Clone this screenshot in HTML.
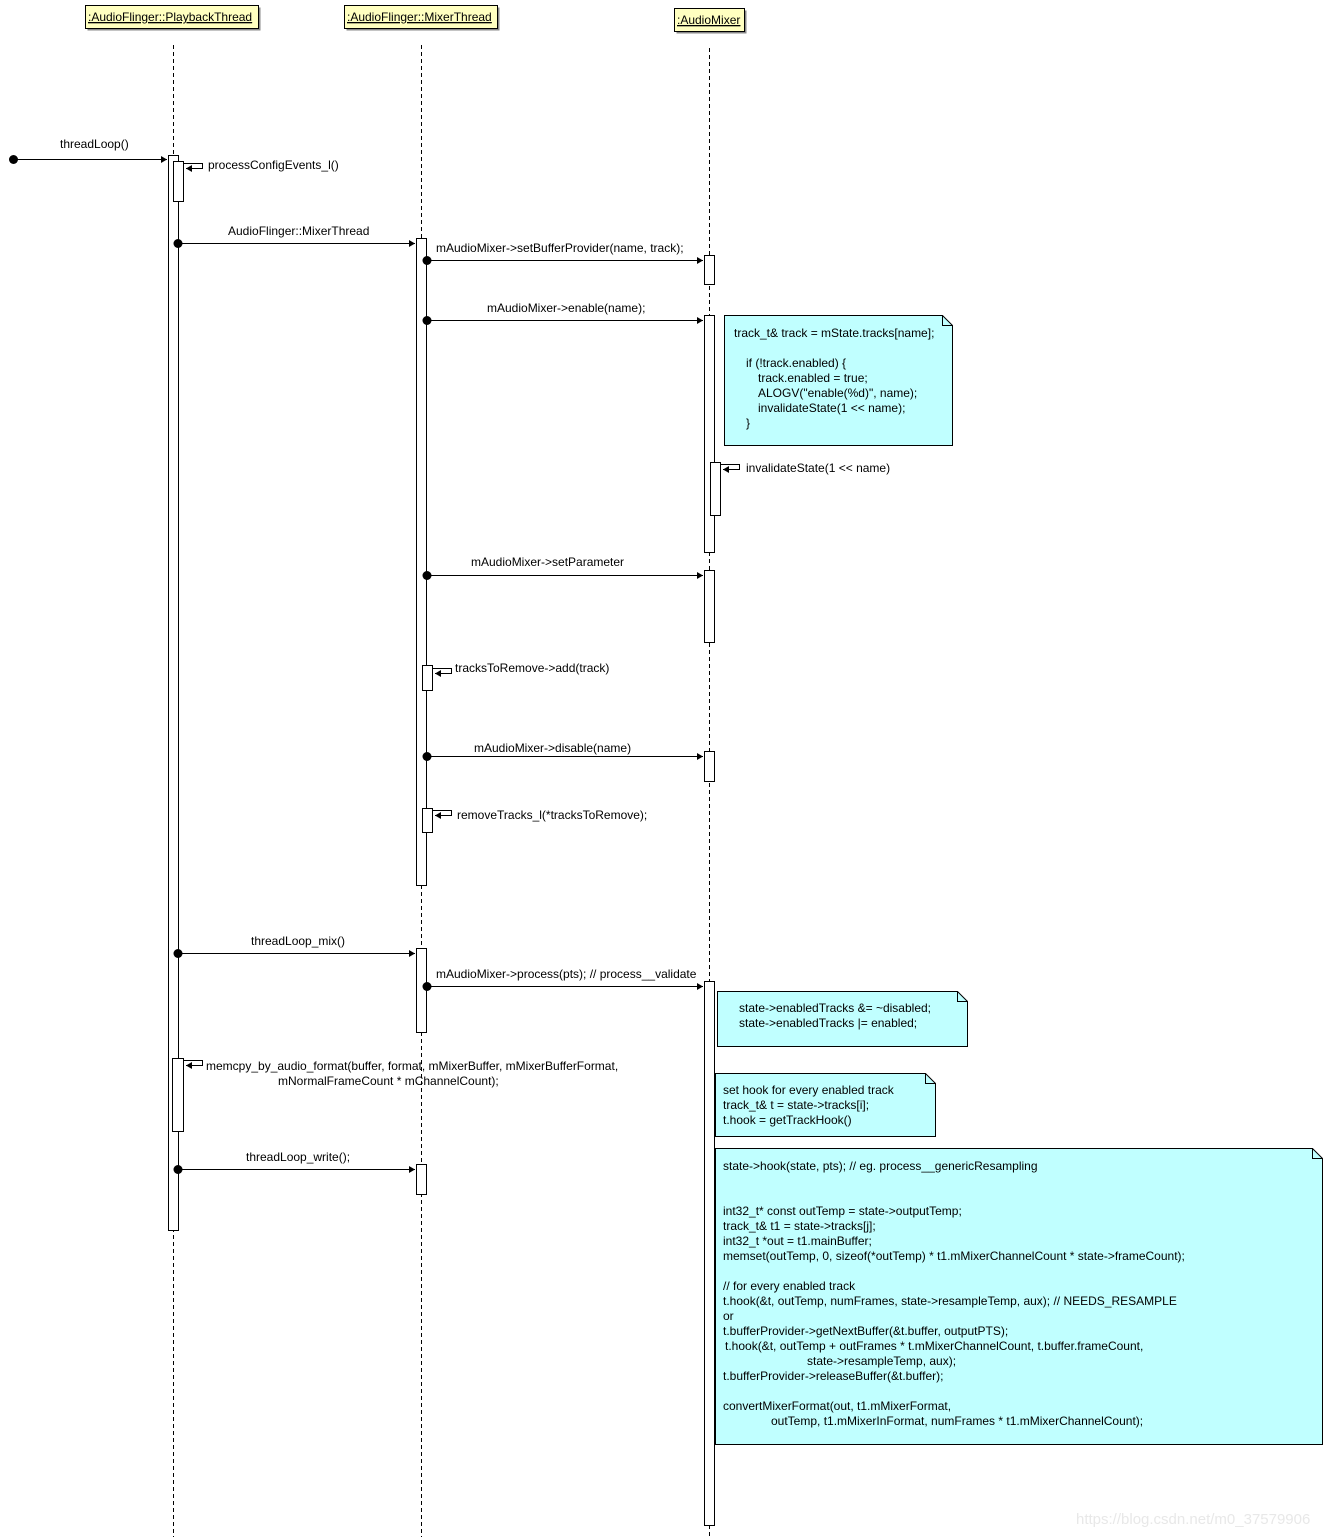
<!DOCTYPE html>
<html><head><meta charset="utf-8"><style>
html,body{margin:0;padding:0;background:#fff;}
svg{display:block;font-family:"Liberation Sans",Arial,sans-serif;font-size:12px;}
text{fill:#000;}
</style></head><body>
<svg width="1333" height="1537" viewBox="0 0 1333 1537" xmlns="http://www.w3.org/2000/svg">
<defs>
<marker id="ah" markerWidth="8" markerHeight="8" refX="6" refY="3.5" orient="auto" markerUnits="userSpaceOnUse"><path d="M0,0 L6,3.5 L0,7 z" fill="#000"/></marker>
</defs>
<!-- headers -->
<g stroke="#000" stroke-width="1">
<rect x="87.5" y="7.5" width="173" height="23" fill="#888" stroke="none"/>
<rect x="85.5" y="5.5" width="173" height="23" fill="#ffffc0"/>
<rect x="346.5" y="7.5" width="153" height="23" fill="#888" stroke="none"/>
<rect x="344.5" y="5.5" width="153" height="23" fill="#ffffc0"/>
<rect x="676.5" y="10.5" width="70" height="23" fill="#888" stroke="none"/>
<rect x="674.5" y="8.5" width="70" height="23" fill="#ffffc0"/>
</g>
<g text-decoration="underline">
<text x="88" y="21" text-decoration="underline">:AudioFlinger::PlaybackThread</text>
<text x="347" y="21" text-decoration="underline">:AudioFlinger::MixerThread</text>
<text x="677" y="24" text-decoration="underline">:AudioMixer</text>
</g>
<!-- lifelines -->
<g stroke="#000" stroke-dasharray="4,3" stroke-width="1">
<line x1="173.5" y1="45" x2="173.5" y2="1537"/>
<line x1="421.5" y1="45" x2="421.5" y2="1537"/>
<line x1="709.5" y1="48" x2="709.5" y2="1537"/>
</g>
<!-- activation bars -->
<g stroke="#000" fill="#fff" stroke-width="1">
<rect x="168.5" y="155.5" width="10" height="1075"/>
<rect x="173.5" y="161.5" width="10" height="40"/>
<rect x="172.5" y="1058.5" width="11" height="73"/>
<rect x="416.5" y="238.5" width="10" height="647"/>
<rect x="422.5" y="665.5" width="10" height="25"/>
<rect x="422.5" y="808.5" width="10" height="24"/>
<rect x="416.5" y="948.5" width="10" height="84"/>
<rect x="416.5" y="1164.5" width="10" height="30"/>
<rect x="704.5" y="255.5" width="10" height="29"/>
<rect x="704.5" y="315.5" width="10" height="237"/>
<rect x="710.5" y="462.5" width="10" height="53"/>
<rect x="704.5" y="570.5" width="10" height="72"/>
<rect x="704.5" y="751.5" width="10" height="30"/>
<rect x="704.5" y="981.5" width="10" height="544"/>
</g>
<!-- messages -->
<g stroke="#000" stroke-width="1" fill="none">
<line x1="13" y1="159.5" x2="167" y2="159.5" marker-end="url(#ah)"/>
<line x1="178" y1="243.5" x2="415" y2="243.5" marker-end="url(#ah)"/>
<line x1="427" y1="260.5" x2="703" y2="260.5" marker-end="url(#ah)"/>
<line x1="427" y1="320.5" x2="703" y2="320.5" marker-end="url(#ah)"/>
<line x1="427" y1="575.5" x2="703" y2="575.5" marker-end="url(#ah)"/>
<line x1="427" y1="756.5" x2="703" y2="756.5" marker-end="url(#ah)"/>
<line x1="178" y1="953.5" x2="415" y2="953.5" marker-end="url(#ah)"/>
<line x1="427" y1="986.5" x2="703" y2="986.5" marker-end="url(#ah)"/>
<line x1="178" y1="1169.5" x2="415" y2="1169.5" marker-end="url(#ah)"/>
<!-- self loops -->
<polyline points="184,163.5 202.5,163.5 202.5,168.5 186,168.5" marker-end="url(#ah)"/>
<polyline points="721,464.5 739.5,464.5 739.5,469.5 723,469.5" marker-end="url(#ah)"/>
<polyline points="433,668.5 451.5,668.5 451.5,673.5 435,673.5" marker-end="url(#ah)"/>
<polyline points="433,810.5 451.5,810.5 451.5,815.5 435,815.5" marker-end="url(#ah)"/>
<polyline points="184,1060.5 202.5,1060.5 202.5,1065.5 186,1065.5" marker-end="url(#ah)"/>
</g>
<g fill="#000">
<circle cx="13.5" cy="159.5" r="4.5"/>
<circle cx="178" cy="243.5" r="4.5"/>
<circle cx="427" cy="260.5" r="4.5"/>
<circle cx="427" cy="320.5" r="4.5"/>
<circle cx="427" cy="575.5" r="4.5"/>
<circle cx="427" cy="756.5" r="4.5"/>
<circle cx="178" cy="953.5" r="4.5"/>
<circle cx="427" cy="986.5" r="4.5"/>
<circle cx="178" cy="1169.5" r="4.5"/>
</g>
<!-- message labels -->
<text x="60" y="148">threadLoop()</text>
<text x="208" y="169">processConfigEvents_l()</text>
<text x="228" y="235">AudioFlinger::MixerThread</text>
<text x="436" y="252">mAudioMixer-&gt;setBufferProvider(name, track);</text>
<text x="487" y="312">mAudioMixer-&gt;enable(name);</text>
<text x="746" y="472">invalidateState(1 &lt;&lt; name)</text>
<text x="471" y="566">mAudioMixer-&gt;setParameter</text>
<text x="455" y="672">tracksToRemove-&gt;add(track)</text>
<text x="474" y="752">mAudioMixer-&gt;disable(name)</text>
<text x="457" y="819">removeTracks_l(*tracksToRemove);</text>
<text x="251" y="945">threadLoop_mix()</text>
<text x="436" y="978">mAudioMixer-&gt;process(pts); // process__validate</text>
<text x="206" y="1070">memcpy_by_audio_format(buffer, format, mMixerBuffer, mMixerBufferFormat,</text>
<text x="278" y="1085">mNormalFrameCount * mChannelCount);</text>
<text x="246" y="1161">threadLoop_write();</text>
<!-- notes -->
<g stroke="#000" stroke-width="1" fill="#c0ffff">
<path d="M724.5,315.5 H942.5 L952.5,325.5 V445.5 H724.5 Z"/>
<path d="M942.5,315.5 V325.5 H952.5" fill="none"/>
<path d="M717.5,991.5 H957.5 L967.5,1001.5 V1046.5 H717.5 Z"/>
<path d="M957.5,991.5 V1001.5 H967.5" fill="none"/>
<path d="M715.5,1073.5 H925.5 L935.5,1083.5 V1136.5 H715.5 Z"/>
<path d="M925.5,1073.5 V1083.5 H935.5" fill="none"/>
<path d="M715.5,1148.5 H1312.5 L1322.5,1158.5 V1444.5 H715.5 Z"/>
<path d="M1312.5,1148.5 V1158.5 H1322.5" fill="none"/>
</g>
<g>
<text x="734" y="337">track_t&amp; track = mState.tracks[name];</text>
<text x="746" y="367">if (!track.enabled) {</text>
<text x="758" y="382">track.enabled = true;</text>
<text x="758" y="397">ALOGV("enable(%d)", name);</text>
<text x="758" y="412">invalidateState(1 &lt;&lt; name);</text>
<text x="746" y="427">}</text>

<text x="739" y="1012">state-&gt;enabledTracks &amp;= ~disabled;</text>
<text x="739" y="1027">state-&gt;enabledTracks |=  enabled;</text>

<text x="723" y="1094">set hook for every enabled track</text>
<text x="723" y="1109">track_t&amp; t = state-&gt;tracks[i];</text>
<text x="723" y="1124">t.hook = getTrackHook()</text>

<text x="723" y="1170">state-&gt;hook(state, pts);  // eg. process__genericResampling</text>
<text x="723" y="1215">int32_t* const outTemp = state-&gt;outputTemp;</text>
<text x="723" y="1230">track_t&amp; t1 = state-&gt;tracks[j];</text>
<text x="723" y="1245">int32_t *out = t1.mainBuffer;</text>
<text x="723" y="1260">memset(outTemp, 0, sizeof(*outTemp) * t1.mMixerChannelCount * state-&gt;frameCount);</text>
<text x="723" y="1290">// for every enabled track</text>
<text x="723" y="1305">t.hook(&amp;t, outTemp, numFrames, state-&gt;resampleTemp, aux); // NEEDS_RESAMPLE</text>
<text x="723" y="1320">or</text>
<text x="723" y="1335">t.bufferProvider-&gt;getNextBuffer(&amp;t.buffer, outputPTS);</text>
<text x="725" y="1350">t.hook(&amp;t, outTemp + outFrames * t.mMixerChannelCount, t.buffer.frameCount,</text>
<text x="807" y="1365">state-&gt;resampleTemp, aux);</text>
<text x="723" y="1380">t.bufferProvider-&gt;releaseBuffer(&amp;t.buffer);</text>
<text x="723" y="1410">convertMixerFormat(out, t1.mMixerFormat,</text>
<text x="771" y="1425">outTemp, t1.mMixerInFormat, numFrames * t1.mMixerChannelCount);</text>
</g>
<text x="1076" y="1524" font-size="15" style="fill:#e8e8e8">https://blog.csdn.net/m0_37579906</text>
</svg>
</body></html>
